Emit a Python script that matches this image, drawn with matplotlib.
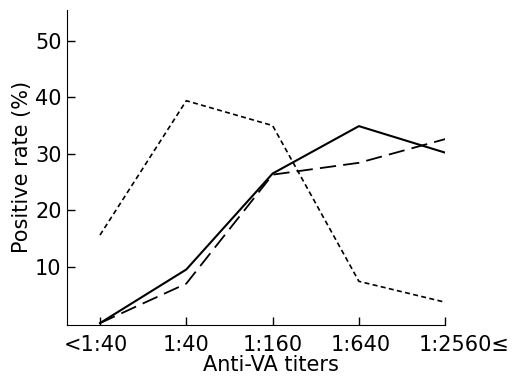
import numpy as np
import matplotlib.pyplot as plt
from matplotlib.transforms import ScaledTranslation

# titer categories on the x axis
titers = ['<1:40', '1:40', '1:160', '1:640', '1:2560≤']

# positive rate (%)
solid_line = [0, 9.5, 26.5, 34.9, 30.2]
long_dash = [0, 7.0, 26.3, 28.4, 32.6]
short_dash = [15.6, 39.4, 35.0, 7.4, 3.7]

x = np.arange(len(titers))

fig, ax = plt.subplots(figsize=(5.25, 3.79), dpi=100)
fig.subplots_adjust(left=0.128, right=0.848, bottom=0.143, top=0.974)

ax.plot(x, solid_line, color='black', linewidth=1.5, linestyle='-')
ax.plot(x, long_dash, color='black', linewidth=1.3, dashes=(9, 4))
ax.plot(x, short_dash, color='black', linewidth=1.2, dashes=(3, 2))

ax.set_xlim(-0.38, 4)
ax.set_ylim(-0.3, 55.5)
ax.set_xticks(x)
ax.set_xticklabels(titers)
ax.set_yticks([10, 20, 30, 40, 50])

ax.spines['top'].set_visible(False)
ax.spines['right'].set_visible(False)
ax.tick_params(direction='in', length=6, width=1, labelsize=15)
ax.tick_params(axis='x', pad=7)
ax.tick_params(axis='y', pad=4)

# the outer labels sit a bit off their ticks in the original
shifts = [-4, 0, 0, 2, 19]
for lab, dx in zip(ax.get_xticklabels(), shifts):
    lab.set_transform(lab.get_transform() + ScaledTranslation(dx / 100, 0, fig.dpi_scale_trans))

ax.set_xlabel('Anti-VA titers', fontsize=15)
ax.xaxis.set_label_coords(0.54, -0.095)
ax.set_ylabel('Positive rate (%)', fontsize=15, labelpad=2)

plt.savefig('out.png', dpi=100)
